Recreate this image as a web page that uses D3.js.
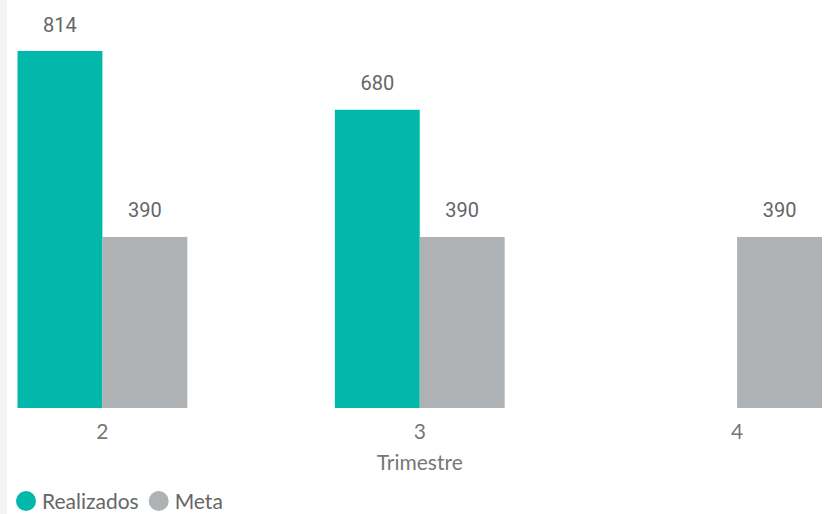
<!DOCTYPE html>
<html><head><meta charset="utf-8">
<script src="https://cdn.jsdelivr.net/npm/d3@7"></script>
<style>html,body{margin:0;padding:0;background:#fff;}svg{display:block;}</style>
</head><body>
<svg id="c" width="828" height="514"></svg>
<script>
const categories = ["2", "3", "4"];
const seriesNames = ["Realizados", "Meta"];
const realizados = [814, 680, null];
const meta = [390, 390, 390];
const colors = ["#01B8AA", "#AEB2B4"];
const axisTitle = "Trimestre";

const svg = d3.select("#c");
svg.append("rect").attr("x",0).attr("y",0).attr("width",7).attr("height",514).attr("fill","#f4f4f4");

const data = categories.map((c,i)=>({cat:c, vals:[realizados[i], meta[i]]}));
const x0 = d3.scaleBand().domain(categories).range([17.5, 822]).paddingInner(0.465).paddingOuter(0);
const x1 = d3.scaleBand().domain(seriesNames).range([0, x0.bandwidth()]).padding(0);
const y = d3.scaleLinear().domain([0, d3.max(realizados.concat(meta))]).range([408, 51]);
const color = d3.scaleOrdinal().domain(seriesNames).range(colors);

const axisFont = "Lato, 'Open Sans', sans-serif";

const g = svg.append("g");
const groups = g.selectAll("g.grp").data(data).join("g").attr("class","grp")
  .attr("transform", d=>`translate(${x0(d.cat)},0)`);
const items = d=>seriesNames.map((s,j)=>({s, v:d.vals[j]})).filter(e=>e.v!=null);
groups.selectAll("rect").data(items).join("rect")
  .attr("x", e=>x1(e.s)).attr("width", x1.bandwidth())
  .attr("y", e=>y(e.v)).attr("height", e=>y(0)-y(e.v))
  .attr("fill", e=>color(e.s));
groups.selectAll("text").data(items).join("text")
  .attr("x", e=>x1(e.s)+x1.bandwidth()/2).attr("y", e=>y(e.v)-19.5)
  .attr("text-anchor","middle").attr("fill","#666")
  .style("font-family","Roboto, 'DejaVu Sans', sans-serif").style("font-size","20px")
  .text(e=>e.v);

const xAxis = d3.axisBottom(x0).tickSize(0).tickPadding(0);
const ax = svg.append("g").attr("transform","translate(0,439)").call(xAxis);
ax.select(".domain").remove();
ax.selectAll("text").attr("dy","0").attr("y",0).attr("fill","#777")
  .style("font-family",axisFont).style("font-size","21px");

svg.append("text").attr("x", x0("3")+x0.bandwidth()/2).attr("y", 470).attr("text-anchor","middle")
  .attr("fill","#777").style("font-family",axisFont).style("font-size","21px")
  .text(axisTitle);

const legend = svg.append("g").attr("transform","translate(0,501)");
let lx = 16;
seriesNames.forEach((s,i)=>{
  legend.append("circle").attr("cx", lx+10).attr("cy",0).attr("r",10).attr("fill",colors[i]);
  const t = legend.append("text").attr("x", lx+26).attr("y", 7.5)
    .attr("fill","#666").style("font-family",axisFont).style("font-size","21px").text(s);
  lx = lx + 26 + t.node().getComputedTextLength() + 10;
});
</script>
</body></html>
